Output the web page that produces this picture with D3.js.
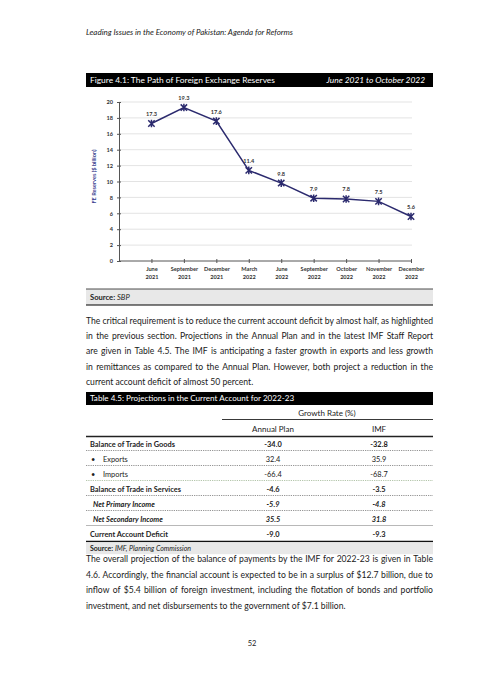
<!DOCTYPE html>
<html>
<head>
<meta charset="utf-8">
<script src="https://cdn.jsdelivr.net/npm/d3@7"></script>
<style>
  body { margin: 0; background: #fff; }
  text { font-family: Lato, "Open Sans", sans-serif; }
  .body { font-size: 8.6px; fill: #1a1a1a; }
  .tick text { font-size: 5.6px; font-weight: bold; fill: #333; }
</style>
</head>
<body>
<div id="page"></div>
<script>
// Figure 4.1 data
var months = ["June 2021", "September 2021", "December 2021", "March 2022", "June 2022",
              "September 2022", "October 2022", "November 2022", "December 2022"];
var reserves = [17.3, 19.3, 17.6, 11.4, 9.8, 7.9, 7.8, 7.5, 5.6];
var yTicks = [0, 2, 4, 6, 8, 10, 12, 14, 16, 18, 20];

// Table 4.5 data
var rowLabels = ["Balance of Trade in Goods", "Exports", "Imports", "Balance of Trade in Services",
                 "Net Primary Income", "Net Secondary Income", "Current Account Deficit"];
var rowKinds = ["bold", "bullet", "bullet", "bold", "italic", "italic", "bold"];
var annualPlan = [-34.0, 32.4, -66.4, -4.6, -5.9, 35.5, -9.0];
var imf = [-32.8, 35.9, -68.7, -3.5, -4.8, 31.8, -9.3];

var para1 = [
  "The critical requirement is to reduce the current account deficit by almost half, as highlighted",
  "in the previous section. Projections in the Annual Plan and in the latest IMF Staff Report",
  "are given in Table 4.5. The IMF is anticipating a faster growth in exports and less growth",
  "in remittances as compared to the Annual Plan. However, both project a reduction in the",
  "current account deficit of almost 50 percent."
];
var para2 = [
  "The overall projection of the balance of payments by the IMF for 2022-23 is given in Table",
  "4.6. Accordingly, the financial account is expected to be in a surplus of $12.7 billion, due to",
  "inflow of $5.4 billion of foreign investment, including the flotation of bonds and portfolio",
  "investment, and net disbursements to the government of $7.1 billion."
];

var W = 504, H = 684;
var left = 86, right = 433;
var navy = "#2b2a6e";

var svg = d3.select("#page").append("svg")
    .attr("width", W)
    .attr("height", H);

svg.append("rect").attr("width", W).attr("height", H).attr("fill", "#fff");

// running header
svg.append("text")
    .attr("x", left).attr("y", 35)
    .attr("font-size", 8).attr("font-style", "italic").attr("fill", "#222")
    .text("Leading Issues in the Economy of Pakistan: Agenda for Reforms");

// ---------- Figure 4.1 ----------
svg.append("rect").attr("x", left).attr("y", 73).attr("width", right - left).attr("height", 14).attr("fill", "#000");
svg.append("text").attr("x", 90).attr("y", 83).attr("font-size", 8.4).attr("fill", "#fff")
    .text("Figure 4.1: The Path of Foreign Exchange Reserves");
svg.append("text").attr("x", 425).attr("y", 83).attr("font-size", 8.4).attr("fill", "#fff")
    .attr("font-style", "italic").attr("text-anchor", "end")
    .text("June 2021 to October 2022");

var plot = { left: 119, right: 411, top: 102, bottom: 261 };
var step = (plot.right - plot.left) / months.length;

var xScale = d3.scalePoint()
    .domain(months)
    .range([plot.left + step, plot.right]);

var yScale = d3.scaleLinear()
    .domain([0, 20])
    .range([plot.bottom, plot.top]);

var chart = svg.append("g");

// gridlines
chart.selectAll("line.grid")
    .data(yTicks.filter(d => d > 0))
    .enter()
    .append("line")
    .attr("class", "grid")
    .attr("x1", plot.left).attr("x2", plot.right + 1)
    .attr("y1", d => yScale(d)).attr("y2", d => yScale(d))
    .attr("stroke", "#dcdcdc").attr("stroke-width", 0.8);

// y axis
var yAxis = chart.append("g")
    .attr("transform", `translate(${plot.left}, 0)`)
    .call(d3.axisLeft(yScale).tickValues(yTicks).tickSize(2).tickPadding(4).tickSizeOuter(0));
yAxis.select(".domain").attr("stroke", "#555");
yAxis.selectAll(".tick line").attr("x2", 2).attr("x1", -2).attr("stroke", "#555");

// x axis
var xAxis = chart.append("g")
    .attr("transform", `translate(0, ${plot.bottom})`)
    .call(d3.axisBottom(xScale).tickSize(2).tickSizeOuter(0).tickFormat(""));
xAxis.select(".domain").attr("d", `M${plot.left},0H${plot.right}`).attr("stroke", "#555");
xAxis.selectAll(".tick line").attr("y1", -2).attr("y2", 2).attr("stroke", "#555");
xAxis.selectAll(".tick").each(function(d) {
  var parts = d.split(" ");
  var t = d3.select(this).append("text")
      .attr("text-anchor", "middle");
  t.append("tspan").attr("x", 0).attr("y", 10).text(parts[0]);
  t.append("tspan").attr("x", 0).attr("y", 18).text(parts[1]);
});

// y axis title
chart.append("text")
    .attr("transform", `translate(96, ${(plot.top + plot.bottom) / 2 - 5}) rotate(-90)`)
    .attr("text-anchor", "middle")
    .attr("font-size", 5.6).attr("font-weight", "bold").attr("fill", "#3a3f8f")
    .text("FE Reserves ($ billion)");

// line
var line = d3.line()
    .x((d, i) => xScale(months[i]))
    .y(d => yScale(d));

chart.append("path")
    .datum(reserves)
    .attr("d", line)
    .attr("fill", "none")
    .attr("stroke", navy)
    .attr("stroke-width", 1.5);

// star markers
var m = 3.2;
var markers = chart.selectAll("g.marker")
    .data(reserves)
    .enter()
    .append("g")
    .attr("class", "marker")
    .attr("transform", (d, i) => `translate(${xScale(months[i])}, ${yScale(d)})`);
markers.append("path")
    .attr("d", `M${-m},${-m}L${m},${m}M${-m},${m}L${m},${-m}M0,${-m - 0.6}V${m + 0.6}`)
    .attr("stroke", navy).attr("stroke-width", 1.5).attr("fill", "none");

// value labels
chart.selectAll("text.value")
    .data(reserves)
    .enter()
    .append("text")
    .attr("class", "value")
    .attr("x", (d, i) => xScale(months[i]))
    .attr("y", d => yScale(d) - 7.5)
    .attr("text-anchor", "middle")
    .attr("font-size", 5.6).attr("font-weight", "bold").attr("fill", "#333")
    .text(d => d.toFixed(1));

// source box
svg.append("rect").attr("x", left).attr("y", 289).attr("width", right - left).attr("height", 16).attr("fill", "#e8e8e8");
svg.append("line").attr("x1", left).attr("x2", right).attr("y1", 289).attr("y2", 289).attr("stroke", "#222").attr("stroke-width", 0.8);
svg.append("line").attr("x1", left).attr("x2", right).attr("y1", 305).attr("y2", 305).attr("stroke", "#000").attr("stroke-width", 1.2);
var src1 = svg.append("text").attr("x", 90).attr("y", 300).attr("font-size", 7.6).attr("fill", "#222");
src1.append("tspan").attr("font-weight", "bold").text("Source: ");
src1.append("tspan").attr("font-style", "italic").text("SBP");

// ---------- justified paragraphs (one text per word) ----------
function paragraph(lines, y0, lh) {
  lines.forEach(function(str, i) {
    var y = y0 + i * lh;
    if (i === lines.length - 1) {
      svg.append("text").attr("class", "body").attr("x", left).attr("y", y).text(str);
      return;
    }
    var words = str.split(" ");
    var nodes = words.map(w => svg.append("text").attr("class", "body").attr("y", y).text(w));
    var widths = nodes.map(n => n.node().getComputedTextLength());
    var gap = (right - left - d3.sum(widths)) / (words.length - 1);
    var x = left;
    nodes.forEach(function(n, j) {
      n.attr("x", x);
      x += widths[j] + gap;
    });
  });
}

paragraph(para1, 324, 15.2);

// ---------- Table 4.5 ----------
svg.append("rect").attr("x", left).attr("y", 392).attr("width", right - left).attr("height", 13).attr("fill", "#000");
svg.append("text").attr("x", 90).attr("y", 401.4).attr("font-size", 8.1).attr("fill", "#fff")
    .text("Table 4.5: Projections in the Current Account for 2022-23");

var colX = { plan: 273, imf: 379 };
svg.append("text").attr("x", 327).attr("y", 416).attr("text-anchor", "middle")
    .attr("font-size", 8).attr("fill", "#222").text("Growth Rate (%)");
svg.append("line").attr("x1", 222).attr("x2", right).attr("y1", 419.5).attr("y2", 419.5)
    .attr("stroke", "#222").attr("stroke-width", 0.9);
svg.append("text").attr("x", colX.plan).attr("y", 432).attr("text-anchor", "middle")
    .attr("font-size", 8).attr("fill", "#222").text("Annual Plan");
svg.append("text").attr("x", colX.imf).attr("y", 432).attr("text-anchor", "middle")
    .attr("font-size", 8).attr("fill", "#222").text("IMF");
svg.append("line").attr("x1", left).attr("x2", right).attr("y1", 436.5).attr("y2", 436.5)
    .attr("stroke", "#222").attr("stroke-width", 1.3);

var rowY = d3.scaleBand()
    .domain(rowLabels)
    .range([437, 542]);

var rows = svg.selectAll("g.row")
    .data(rowLabels)
    .enter()
    .append("g")
    .attr("class", "row")
    .attr("transform", d => `translate(0, ${rowY(d)})`);

rows.append("text")
    .attr("x", (d, i) => rowKinds[i] === "bold" ? 90 : (rowKinds[i] === "italic" ? 93 : 103))
    .attr("y", 10)
    .attr("font-size", 7.4)
    .attr("font-weight", (d, i) => rowKinds[i] === "bullet" ? "normal" : "bold")
    .attr("font-style", (d, i) => rowKinds[i] === "italic" ? "italic" : "normal")
    .attr("fill", "#222")
    .text(d => d);

rows.filter((d, i) => rowKinds[i] === "bullet")
    .append("text")
    .attr("x", 91).attr("y", 10)
    .attr("font-size", 7.4).attr("fill", "#222")
    .text("\u2022");

rows.append("text")
    .attr("x", colX.plan).attr("y", 10)
    .attr("text-anchor", "middle")
    .attr("font-size", 7.4)
    .attr("font-weight", (d, i) => rowKinds[i] === "bullet" ? "normal" : "bold")
    .attr("font-style", (d, i) => rowKinds[i] === "italic" ? "italic" : "normal")
    .attr("fill", "#222")
    .text((d, i) => annualPlan[i].toFixed(1));

rows.append("text")
    .attr("x", colX.imf).attr("y", 10)
    .attr("text-anchor", "middle")
    .attr("font-size", 7.4)
    .attr("font-weight", (d, i) => rowKinds[i] === "bullet" ? "normal" : "bold")
    .attr("font-style", (d, i) => rowKinds[i] === "italic" ? "italic" : "normal")
    .attr("fill", "#222")
    .text((d, i) => imf[i].toFixed(1));

// row separators: dotted between rows, solid before the deficit line
rows.filter((d, i) => i < rowLabels.length - 2)
    .append("line")
    .attr("x1", left).attr("x2", right)
    .attr("y1", rowY.bandwidth() - 1.5).attr("y2", rowY.bandwidth() - 1.5)
    .attr("stroke", (d, i) => i === 2 ? "#7a9a6a" : "#444")
    .attr("stroke-width", 0.7)
    .attr("stroke-dasharray", "0.8,1");

rows.filter((d, i) => i === rowLabels.length - 2)
    .append("line")
    .attr("x1", left).attr("x2", right)
    .attr("y1", rowY.bandwidth() - 1.5).attr("y2", rowY.bandwidth() - 1.5)
    .attr("stroke", "#888").attr("stroke-width", 0.6);

svg.append("line").attr("x1", left).attr("x2", right).attr("y1", 541.5).attr("y2", 541.5)
    .attr("stroke", "#111").attr("stroke-width", 1.3);
svg.append("rect").attr("x", left).attr("y", 542.2).attr("width", right - left).attr("height", 12).attr("fill", "#e8e8e8");
var src2 = svg.append("text").attr("x", 90).attr("y", 551).attr("font-size", 7).attr("fill", "#222");
src2.append("tspan").attr("font-weight", "bold").text("Source: ");
src2.append("tspan").attr("font-style", "italic").text("IMF, Planning Commission");

paragraph(para2, 562, 15.7);

// page number
svg.append("text").attr("x", 252).attr("y", 646).attr("text-anchor", "middle")
    .attr("font-size", 7.5).attr("fill", "#222").text("52");
</script>
</body>
</html>
